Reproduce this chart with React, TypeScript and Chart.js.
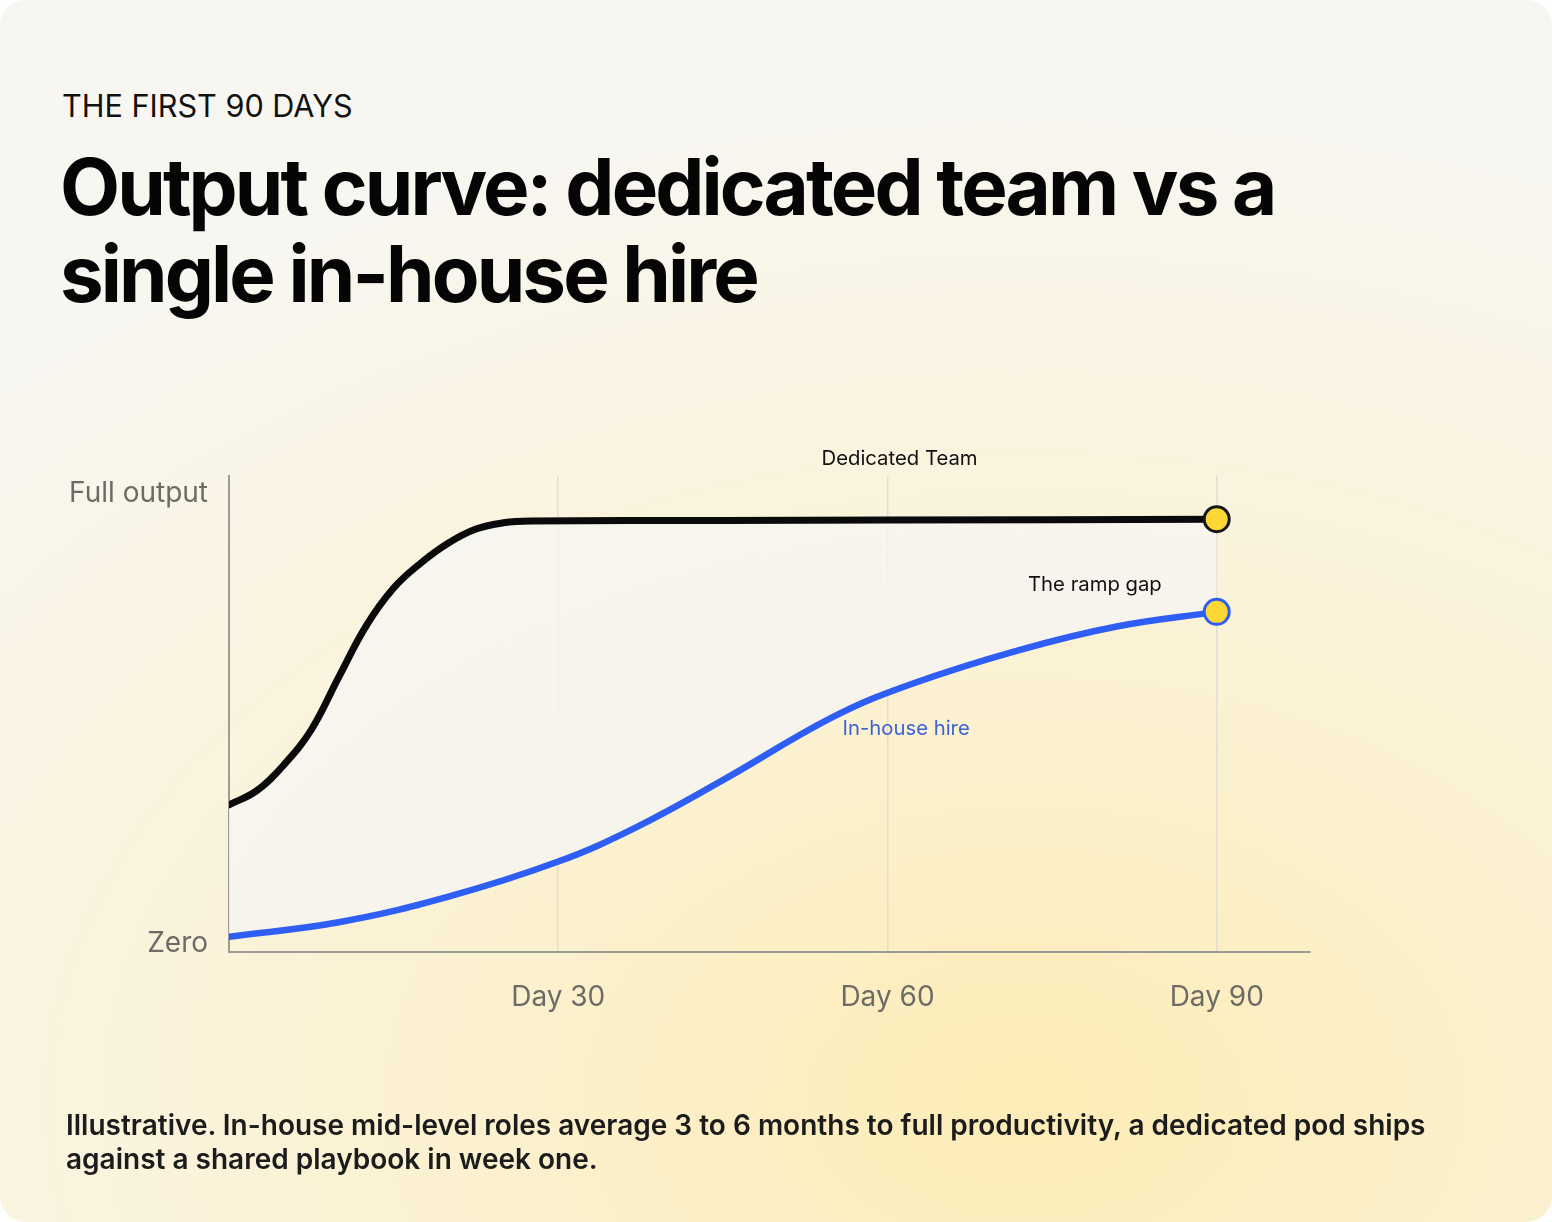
import React, { useEffect, useRef } from "react";
import { Chart, registerables } from "chart.js";

Chart.register(...registerables);

// ---- Data ----
const dedicatedDays = [0, 2.5, 5, 7.5, 10, 12.5, 15, 17.5, 20, 22.5, 25, 27.5, 45, 60, 90];
const dedicatedOutput = [30.9, 34, 39.8, 47.6, 59.3, 70.7, 79.1, 84.7, 89.1, 92.2, 93.6, 94, 94.1, 94.2, 94.4];

const inHouseDays = [0, 10, 20, 30, 37, 45, 55, 62, 72, 81, 90];
const inHouseOutput = [1.6, 4.8, 10.5, 18.3, 25.8, 36.4, 50.4, 57.6, 65.3, 70.6, 73.8];

const xTickDays = [30, 60, 90];
const yTickValues = [0, 100];
const yTickLabels = ["Zero", "Full output"];

const annotationLabels = ["Dedicated Team", "The ramp gap", "In-house hire"];
const annotationDays = [61.1, 78.9, 61.7];
const annotationValues = [107.8, 79.8, 47.8];
const annotationColors = ["#111111", "#111111", "#3a63d8"];

const W = 1552;
const H = 1222;

const annotationPlugin = {
  id: "annotationText",
  afterDatasetsDraw(chart: any) {
    const { ctx, scales } = chart;
    ctx.save();
    ctx.font = "20.3px Inter";
    ctx.textAlign = "center";
    ctx.textBaseline = "middle";
    annotationLabels.forEach((label, i) => {
      ctx.fillStyle = annotationColors[i];
      ctx.fillText(label, scales.x.getPixelForValue(annotationDays[i]), scales.y.getPixelForValue(annotationValues[i]));
    });
    ctx.restore();
  },
};

function ChartCanvas() {
  const ref = useRef<HTMLCanvasElement | null>(null);
  useEffect(() => {
    if (!ref.current) return;
    Chart.defaults.font.family = "Inter";
    const lastIdx = (n: number) => (c: any) => (c.dataIndex === n - 1 ? 12.5 : 0);
    const chart = new Chart(ref.current, {
      type: "line",
      data: {
        datasets: [
          {
            label: "Dedicated Team",
            data: dedicatedDays.map((d, i) => ({ x: d, y: dedicatedOutput[i] })),
            borderColor: "#0a0a0a",
            borderWidth: 7,
            tension: 0.4,
            fill: "+1",
            backgroundColor: "rgba(246,245,241,0.85)",
            pointRadius: lastIdx(dedicatedDays.length),
            pointHoverRadius: lastIdx(dedicatedDays.length),
            pointBackgroundColor: "#fcd736",
            pointBorderColor: "#161616",
            pointBorderWidth: 3,
            borderCapStyle: "round",
            borderJoinStyle: "round",
          },
          {
            label: "In-house hire",
            data: inHouseDays.map((d, i) => ({ x: d, y: inHouseOutput[i] })),
            borderColor: "#2f5ef5",
            borderWidth: 6.5,
            tension: 0.4,
            fill: false,
            pointRadius: lastIdx(inHouseDays.length),
            pointHoverRadius: lastIdx(inHouseDays.length),
            pointBackgroundColor: "#fcd736",
            pointBorderColor: "#2f5ef5",
            pointBorderWidth: 3,
            borderCapStyle: "round",
            borderJoinStyle: "round",
          },
        ],
      },
      options: {
        animation: false,
        responsive: false,
        devicePixelRatio: 1,
        layout: { padding: { left: 0, top: 476, right: W - 1310, bottom: H - 952 - 60 } },
        plugins: {
          legend: { display: false },
          tooltip: { enabled: false },
          filler: { drawTime: "beforeDatasetsDraw" },
        },
        scales: {
          x: {
            type: "linear",
            min: 0,
            max: 98.5,
            afterBuildTicks: (s: any) => {
              s.ticks = xTickDays.map((v) => ({ value: v }));
            },
            afterFit: (s: any) => {
              s.height = 60;
            },
            ticks: {
              callback: (v: any) => "Day " + v,
              color: "#6d6b66",
              font: { size: 28, family: "Inter" },
              padding: 29,
              maxRotation: 0,
              autoSkip: false,
            },
            grid: { display: true, color: "#e2ddd2", lineWidth: 1.5, drawTicks: false },
            border: { display: true, color: "#9c9b96", width: 2 },
          },
          y: {
            type: "linear",
            min: -1.8,
            max: 104,
            afterBuildTicks: (s: any) => {
              s.ticks = yTickValues.map((v) => ({ value: v }));
            },
            afterFit: (s: any) => {
              s.width = 229;
            },
            ticks: {
              callback: (v: any) => yTickLabels[yTickValues.indexOf(Number(v))] ?? "",
              color: "#6d6b66",
              font: { size: 28, family: "Inter" },
              padding: 21,
              autoSkip: false,
            },
            grid: { display: false, drawTicks: false },
            border: { display: true, color: "#9c9b96", width: 2 },
          },
        },
      },
      plugins: [annotationPlugin],
    } as any);
    return () => chart.destroy();
  }, []);
  return (
    <canvas
      ref={ref}
      width={W}
      height={H}
      style={{ position: "absolute", left: 0, top: 0, width: W, height: H }}
    />
  );
}

export default function App() {
  return (
    <div
      style={{
        position: "absolute",
        left: 0,
        top: 0,
        width: W,
        height: H,
        borderRadius: 26,
        overflow: "hidden",
        fontFamily: "Inter, sans-serif",
        backgroundColor: "#f8f6f0",
        backgroundImage:
          "radial-gradient(ellipse 95% 80% at 66% 90%, rgba(253,236,182,1) 0%, rgba(252,241,205,0.8) 45%, rgba(249,245,236,0) 100%)",
      }}
    >
      <div
        style={{
          position: "absolute",
          left: 62,
          top: 91,
          fontSize: 30.6,
          lineHeight: "30px",
          color: "#111",
          whiteSpace: "nowrap",
        }}
      >
        THE FIRST 90 DAYS
      </div>
      <div
        style={{
          position: "absolute",
          left: 60,
          top: 143,
          fontSize: 78,
          lineHeight: "87px",
          fontWeight: 700,
          letterSpacing: "-0.037em",
          color: "#050505",
          whiteSpace: "nowrap",
        }}
      >
        Output curve: dedicated team vs a
        <br />
        single in-house hire
      </div>
      <ChartCanvas />
      <div
        style={{
          position: "absolute",
          left: 66,
          top: 1108,
          width: 1420,
          fontSize: 28,
          lineHeight: "34px",
          fontWeight: 600,
          color: "#1c1c1c",
        }}
      >
        Illustrative. In-house mid-level roles average 3 to 6 months to full productivity, a dedicated pod ships against a
        shared playbook in week one.
      </div>
    </div>
  );
}
